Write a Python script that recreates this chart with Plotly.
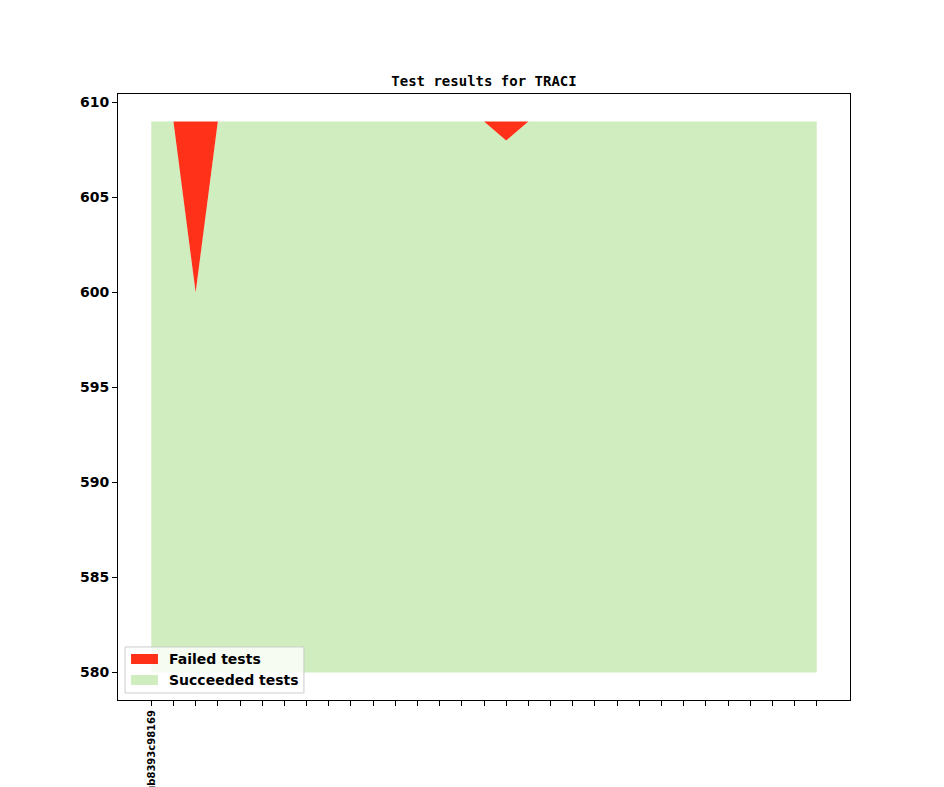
import plotly.graph_objects as go

# commits on the x axis (only the first one carries a label)
commits = list(range(31))
commit_labels = ["v1_0_0+0000-gb8393c98169"] + [""] * 30

total_tests = [609, 609, 609, 609, 609, 609, 609, 609, 609, 609, 609,
               609, 609, 609, 609, 609, 609, 609, 609, 609, 609, 609,
               609, 609, 609, 609, 609, 609, 609, 609, 609]
succeeded_tests = [609, 609, 600, 609, 609, 609, 609, 609, 609, 609, 609,
                   609, 609, 609, 609, 609, 608, 609, 609, 609, 609, 609,
                   609, 609, 609, 609, 609, 609, 609, 609, 609]
base_line = [580] * 31

red = "#ff3119"
green = "#cfedbe"

fig = go.Figure()
# invisible bottom so the green area starts at 580
fig.add_trace(go.Scatter(x=commits, y=base_line, mode="lines", line=dict(width=0, color=green),
                         showlegend=False, hoverinfo="skip"))
fig.add_trace(go.Scatter(x=commits, y=succeeded_tests, mode="lines", line=dict(width=0, color=green),
                         fill="tonexty", fillcolor=green, name="Succeeded tests", showlegend=False))
fig.add_trace(go.Scatter(x=commits, y=total_tests, mode="lines", line=dict(width=0, color=red),
                         fill="tonexty", fillcolor=red, name="Failed tests", showlegend=False))

tick_font = dict(family="DejaVu Sans", size=14, color="black", weight="bold")

# hand-made legend, matplotlib style (patches + labels in a framed box)
legend_items = [("Failed tests", red, 0.0759, 0.0594, 0.0677),
                ("Succeeded tests", green, 0.0413, 0.0248, 0.0330)]
shapes = [dict(type="rect", xref="paper", yref="paper", x0=0.0096, x1=0.254, y0=0.0116, y1=0.0875,
               fillcolor="rgba(255,255,255,0.8)", line=dict(color="#cccccc", width=1), layer="above")]
annotations = []
for label, color, top, bottom, mid in legend_items:
    shapes.append(dict(type="rect", xref="paper", yref="paper", x0=0.0178, x1=0.0546, y0=bottom, y1=top,
                       fillcolor=color, line=dict(width=0), layer="above"))
    annotations.append(dict(text=label, xref="paper", yref="paper", x=0.067, y=mid,
                            xanchor="left", yanchor="middle", showarrow=False, font=tick_font))

fig.update_layout(
    width=936, height=779,
    margin=dict(l=110, r=94, t=86, b=87),
    paper_bgcolor="white", plot_bgcolor="white",
    showlegend=False,
    title=dict(text="Test results for TRACI", x=(110 + 842) / 2 / 936, xanchor="center",
               y=1 - 73 / 779, yanchor="middle",
               font=dict(family="DejaVu Sans Mono", size=14, color="black", weight="bold")),
    shapes=shapes,
    annotations=annotations,
)
fig.update_xaxes(range=[-1.5, 31.5], tickmode="array", tickvals=commits, ticktext=commit_labels,
                 tickangle=-90, ticks="outside", ticklen=5, tickcolor="black",
                 showline=True, linecolor="black", linewidth=1, mirror=True,
                 showgrid=False, zeroline=False, automargin=False,
                 tickfont=dict(family="DejaVu Sans", size=10, color="black", weight="bold"))
fig.update_yaxes(range=[578.55, 610.45], tickvals=[580, 585, 590, 595, 600, 605, 610],
                 ticks="outside", ticklen=5, tickcolor="black",
                 showline=True, linecolor="black", linewidth=1, mirror=True,
                 showgrid=False, zeroline=False, automargin=False, tickfont=tick_font)

fig.write_html("out.html")
